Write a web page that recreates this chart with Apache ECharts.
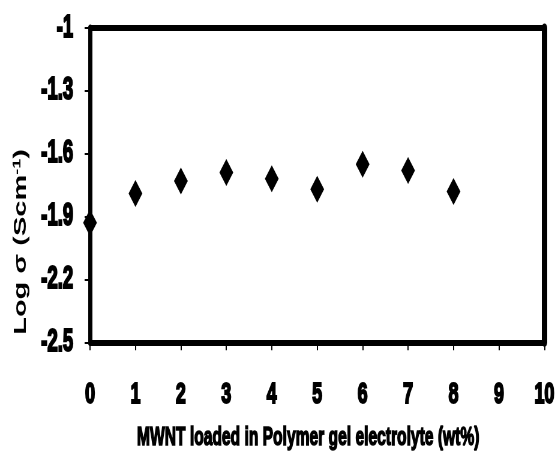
<!DOCTYPE html>
<html>
<head>
<meta charset="utf-8">
<script src="https://cdn.jsdelivr.net/npm/echarts@6/dist/echarts.min.js"></script>
<style>
  html, body { margin: 0; padding: 0; background: #fff; overflow: hidden; width: 557px; height: 457px; }
  /* the original figure is squeezed sideways, so draw wide and compress */
  #chart { width: 928px; height: 457px; transform: scaleX(0.6); transform-origin: 0 0; }
</style>
</head>
<body>
<div id="chart"></div>
<script>
// MWNT wt% loading vs log conductivity
const loading = [0, 1, 2, 3, 4, 5, 6, 7, 8];
const logSigma = [-1.93, -1.79, -1.73, -1.69, -1.72, -1.77, -1.65, -1.68, -1.78];
const xTicks = [0, 1, 2, 3, 4, 5, 6, 7, 8, 9, 10];
const yTicks = [-2.5, -2.2, -1.9, -1.6, -1.3, -1];

const font = "'Liberation Sans', Arial, sans-serif";
const hidden = { show: false };
// heavy black text (stroke thickens the squeezed glyphs)
const heavy = { fontFamily: font, fontWeight: "bold", color: "#000", textBorderColor: "#000", textBorderWidth: 2 };

const chart = echarts.init(document.getElementById("chart"));
chart.setOption({
    animation: false,
    grid: { left: 150, right: 20, top: 28, bottom: 110 },
    xAxis: [
        {
            type: "value",
            min: xTicks[0], max: xTicks[xTicks.length - 1], interval: 1,
            name: "MWNT loaded in Polymer gel electrolyte (wt%)",
            nameLocation: "middle", nameGap: 83,
            nameTextStyle: { ...heavy, fontSize: 26, textBorderWidth: 1.5, padding: [0, 30, 0, 0] },
            axisLine: { show: true, onZero: false, lineStyle: { color: "#000", width: 6 } },
            axisTick: { show: true, inside: false, length: 8, lineStyle: { color: "#000", width: 2 } },
            axisLabel: { ...heavy, margin: 37, fontSize: 30 },
            splitLine: hidden,
        },
        {
            type: "value", position: "top",
            min: xTicks[0], max: xTicks[xTicks.length - 1],
            axisLine: { show: true, onZero: false, lineStyle: { color: "#000", width: 6 } },
            axisTick: hidden, axisLabel: hidden, splitLine: hidden,
        },
    ],
    yAxis: [
        {
            type: "value",
            min: yTicks[0], max: yTicks[yTicks.length - 1], interval: 0.3,
            axisLine: { show: true, onZero: false, lineStyle: { color: "#000", width: 7 } },
            axisTick: { show: true, inside: false, length: 9, lineStyle: { color: "#000", width: 2 } },
            axisLabel: {
                ...heavy, margin: 28, fontSize: 31,
                formatter: (v) => String(Math.round(v * 10) / 10),
            },
            splitLine: hidden,
        },
        {
            type: "value", position: "right",
            min: yTicks[0], max: yTicks[yTicks.length - 1],
            axisLine: { show: true, onZero: false, lineStyle: { color: "#000", width: 9 } },
            axisTick: hidden, axisLabel: hidden, splitLine: hidden,
        },
    ],
    graphic: [{
        type: "text",
        x: 35, y: 242,
        rotation: Math.PI / 2,
        style: {
            text: "Log σ (Scm{sup|-1})",
            rich: { sup: { fontSize: 18, fontFamily: font, fontWeight: "bold", verticalAlign: "top", fill: "#000" } },
            fontFamily: font,
            fontWeight: "bold", fontSize: 29, fill: "#000",
            align: "center", verticalAlign: "middle",
        },
    }],
    series: [{
        type: "scatter",
        data: loading.map((x, i) => [x, logSigma[i]]),
        symbol: "diamond",
        symbolSize: [23, 27],
        itemStyle: { color: "#000", opacity: 1 },
    }],
});
</script>
</body>
</html>
